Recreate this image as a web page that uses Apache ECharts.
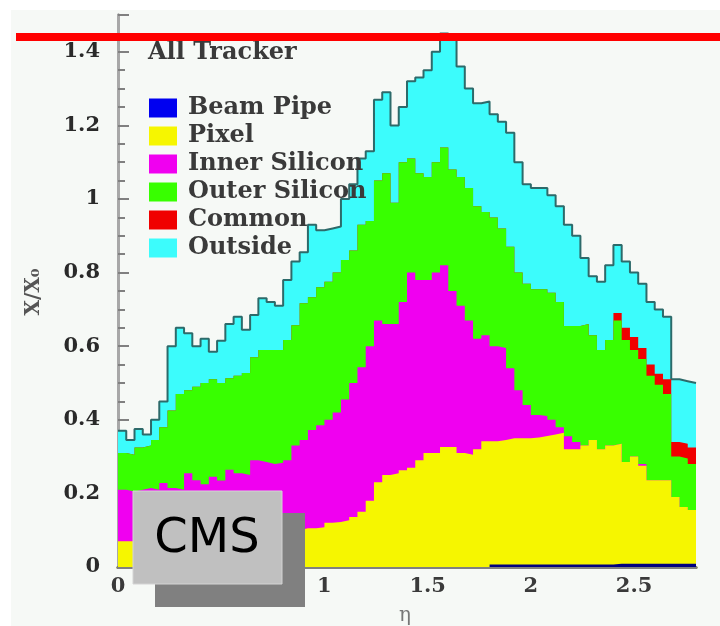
<!DOCTYPE html>
<html><head><meta charset="utf-8">
<script src="https://cdn.jsdelivr.net/npm/echarts@6/dist/echarts.min.js"></script>
<style>html,body{margin:0;padding:0;background:#fff}#c{width:720px;height:626px}</style>
</head><body><div id="c"></div>
<script>
// ---- data (cumulative tops of each stacked layer, read per 0.04 eta bin) ----
const binWidth = 0.04;
const etaMax = 2.8;
const categories = ['Beam Pipe', 'Pixel', 'Inner Silicon', 'Outer Silicon', 'Common', 'Outside'];
const xTickLabels = ['0', '0.5', '1', '1.5', '2', '2.5'];
const yTickLabels = ['0', '0.2', '0.4', '0.6', '0.8', '1', '1.2', '1.4'];

const outsideTop = [
  0.37, 0.345, 0.375, 0.36, 0.40, 0.45, 0.60, 0.65, 0.635, 0.60,
  0.62, 0.585, 0.615, 0.66, 0.68, 0.645, 0.685, 0.73, 0.72, 0.71,
  0.78, 0.83, 0.855, 0.93, 0.915, 0.92, 0.925, 1.0, 1.04, 1.11,
  1.13, 1.27, 1.29, 1.2, 1.25, 1.32, 1.33, 1.35, 1.40, 1.45,
  1.44, 1.36, 1.30, 1.26, 1.265, 1.23, 1.21, 1.18, 1.10, 1.04,
  1.03, 1.03, 1.01, 0.98, 0.93, 0.90, 0.84, 0.79, 0.775, 0.82,
  0.875, 0.83, 0.80, 0.77, 0.72, 0.70, 0.68, 0.51, 0.505, 0.50
];
const commonTop = [
  0.31, 0.305, 0.325, 0.33, 0.345, 0.38, 0.425, 0.47, 0.48, 0.49,
  0.50, 0.51, 0.50, 0.513, 0.52, 0.527, 0.57, 0.59, 0.59, 0.59,
  0.617, 0.657, 0.717, 0.733, 0.76, 0.775, 0.80, 0.834, 0.86, 0.93,
  0.94, 1.05, 1.07, 0.99, 1.10, 1.11, 1.07, 1.06, 1.10, 1.14,
  1.08, 1.06, 1.03, 0.98, 0.965, 0.95, 0.92, 0.87, 0.80, 0.77,
  0.755, 0.755, 0.745, 0.72, 0.655, 0.655, 0.66, 0.63, 0.59, 0.617,
  0.69, 0.65, 0.625, 0.595, 0.55, 0.525, 0.51, 0.34, 0.335, 0.325
];
const outerTop = [
  0.31, 0.305, 0.325, 0.33, 0.345, 0.38, 0.425, 0.47, 0.48, 0.49,
  0.50, 0.51, 0.50, 0.513, 0.52, 0.527, 0.57, 0.59, 0.59, 0.59,
  0.617, 0.657, 0.717, 0.733, 0.76, 0.775, 0.80, 0.834, 0.86, 0.93,
  0.94, 1.05, 1.07, 0.99, 1.10, 1.11, 1.07, 1.06, 1.10, 1.14,
  1.08, 1.06, 1.03, 0.98, 0.965, 0.95, 0.92, 0.87, 0.80, 0.77,
  0.755, 0.755, 0.745, 0.72, 0.655, 0.655, 0.66, 0.63, 0.59, 0.617,
  0.67, 0.617, 0.59, 0.565, 0.52, 0.495, 0.47, 0.30, 0.295, 0.28
];
const innerTop = [
  0.21, 0.205, 0.21, 0.215, 0.21, 0.228, 0.215, 0.21, 0.255, 0.236,
  0.225, 0.245, 0.235, 0.264, 0.255, 0.25, 0.29, 0.285, 0.28, 0.283,
  0.29, 0.33, 0.345, 0.372, 0.385, 0.40, 0.42, 0.455, 0.50, 0.543,
  0.60, 0.67, 0.66, 0.66, 0.72, 0.80, 0.78, 0.78, 0.80, 0.82,
  0.75, 0.71, 0.67, 0.62, 0.63, 0.60, 0.595, 0.54, 0.48, 0.44,
  0.413, 0.41, 0.40, 0.38, 0.355, 0.34, 0.33, 0.345, 0.32, 0.33,
  0.335, 0.285, 0.30, 0.28, 0.236, 0.236, 0.236, 0.19, 0.163, 0.155
];
const pixelTop = [
  0.07, 0.07, 0.072, 0.07, 0.074, 0.073, 0.076, 0.075, 0.078, 0.08,
  0.079, 0.082, 0.081, 0.084, 0.086, 0.085, 0.088, 0.09, 0.092, 0.095,
  0.098, 0.10, 0.105, 0.105, 0.108, 0.12, 0.122, 0.127, 0.136, 0.15,
  0.18, 0.23, 0.25, 0.255, 0.263, 0.27, 0.29, 0.31, 0.31, 0.326,
  0.326, 0.31, 0.305, 0.32, 0.342, 0.342, 0.345, 0.35, 0.35, 0.35,
  0.352, 0.356, 0.36, 0.365, 0.32, 0.32, 0.33, 0.345, 0.32, 0.33,
  0.335, 0.285, 0.30, 0.275, 0.236, 0.236, 0.236, 0.19, 0.163, 0.155
];
const beamPipeTop = [
  0, 0, 0, 0, 0, 0, 0, 0, 0, 0,
  0, 0, 0, 0, 0, 0, 0, 0, 0, 0,
  0, 0, 0, 0, 0, 0, 0, 0, 0, 0,
  0, 0, 0, 0, 0, 0, 0, 0, 0, 0,
  0, 0, 0, 0, 0, 0.007, 0.007, 0.007, 0.007, 0.007,
  0.007, 0.007, 0.007, 0.007, 0.007, 0.007, 0.007, 0.007, 0.007, 0.007,
  0.009, 0.009, 0.009, 0.009, 0.009, 0.009, 0.009, 0.009, 0.009, 0.009
];

const colors = {
  'Beam Pipe': '#0000f0', 'Pixel': '#f6f600', 'Inner Silicon': '#f000f0',
  'Outer Silicon': '#38ff00', 'Common': '#f00000', 'Outside': '#3cfcfc'
};

function steps(arr) {
  const pts = arr.map((v, i) => [+(i * binWidth).toFixed(3), v]);
  pts.push([etaMax, arr[arr.length - 1]]);
  return pts;
}

const layers = [
  ['Outside', outsideTop],
  ['Common', commonTop],
  ['Outer Silicon', outerTop],
  ['Inner Silicon', innerTop],
  ['Pixel', pixelTop],
  ['Beam Pipe', beamPipeTop]
];

const series = layers.map(([name, arr], k) => ({
  name: name,
  type: 'line',
  step: 'end',
  showSymbol: false,
  symbol: 'none',
  z: 2 + k,
  data: steps(arr),
  itemStyle: { color: colors[name] },
  lineStyle: name === 'Outside' ? { color: '#2d6a6a', width: 2 } : { width: 0, color: colors[name] },
  areaStyle: { color: name === 'Beam Pipe' ? '#000080' : colors[name], opacity: 1 },
  emphasis: { disabled: true },
  animation: false
}));

const serif = 'DejaVu Serif';
const chart = echarts.init(document.getElementById('c'), null, { renderer: 'canvas' });
chart.setOption({
  animation: false,
  backgroundColor: '#ffffff',
  grid: { left: 118, right: 24, top: 15, bottom: 59, containLabel: false },
  legend: {
    data: categories,
    orient: 'vertical',
    left: 144,
    top: 91,
    icon: 'rect',
    itemWidth: 28,
    itemHeight: 19,
    itemGap: 4,
    selectedMode: false,
    textStyle: { fontFamily: serif, fontWeight: 'bold', fontSize: 24, lineHeight: 24, color: '#3a3a3a', padding: [0, 0, 0, 6] }
  },
  xAxis: [{
    type: 'value', min: 0, max: etaMax, interval: 0.5,
    axisLine: { show: true, lineStyle: { color: '#808000', width: 3 } },
    axisTick: { show: false },
    splitLine: { show: false },
    axisLabel: {
      margin: 9, fontFamily: serif, fontWeight: 'bold', fontSize: 21, color: '#3a3a3a',
      formatter: v => { const i = Math.round(v / 0.5); return Math.abs(v - i * 0.5) < 1e-6 && i < xTickLabels.length ? xTickLabels[i] : ''; }
    }
  }, {
    type: 'value', position: 'top', min: 0, max: etaMax,
    axisLine: { show: true, lineStyle: { color: '#808080', width: 3 } },
    axisTick: { show: false }, axisLabel: { show: false }, splitLine: { show: false }
  }],
  yAxis: [{
    type: 'value', min: 0, max: 1.5, interval: 0.2,
    axisLine: { show: true, lineStyle: { color: '#808080', width: 3 } },
    axisTick: { show: true, inside: true, length: 11, lineStyle: { color: '#808080', width: 2 } },
    minorTick: { show: true, splitNumber: 4, length: 7, lineStyle: { color: '#808080', width: 2 } },
    splitLine: { show: false },
    axisLabel: {
      margin: 18, fontFamily: serif, fontWeight: 'bold', fontSize: 21, color: '#2a2a2a',
      formatter: v => { const i = Math.round(v / 0.2); return Math.abs(v - i * 0.2) < 1e-6 && i < yTickLabels.length ? yTickLabels[i] : ''; }
    }
  }, {
    type: 'value', position: 'right', min: 0, max: 1.5,
    axisLine: { show: true, lineStyle: { color: '#a8a8a8', width: 3 } },
    axisTick: { show: false }, axisLabel: { show: false }, splitLine: { show: false }
  }],
  series: series,
  graphic: [
    { type: 'rect', z: -10, shape: { x: 11, y: 10, width: 709, height: 616 }, style: { fill: '#f6f9f6' } },
    { type: 'text', z: 50, x: 148, y: 53, style: { text: 'All Tracker', font: 'bold 24px "DejaVu Serif"', fill: '#3a3a3a', align: 'left', verticalAlign: 'middle' } },
    { type: 'text', z: 50, x: 34, y: 292, rotation: Math.PI / 2, style: { text: 'X/X\u2080', font: 'bold 20px "DejaVu Serif"', fill: '#555', align: 'center', verticalAlign: 'middle' } },
    { type: 'text', z: 50, x: 405, y: 616, style: { text: '\u03b7', font: '20px "DejaVu Serif"', fill: '#777', align: 'center', verticalAlign: 'middle' } },
    { type: 'rect', z: 100, shape: { x: 16, y: 33, width: 704, height: 8 }, style: { fill: '#ff0000' } },
    { type: 'rect', z: 100, shape: { x: 155, y: 513, width: 150, height: 94 }, style: { fill: '#808080' } },
    { type: 'rect', z: 101, shape: { x: 133, y: 491, width: 149, height: 93 }, style: { fill: '#c0c0c0', stroke: '#d4d4d4', lineWidth: 1 } },
    { type: 'text', z: 102, x: 207, y: 540, style: { text: 'CMS', font: '48px "DejaVu Sans"', fill: '#000', align: 'center', verticalAlign: 'middle' } }
  ]
});
</script>
</body></html>
